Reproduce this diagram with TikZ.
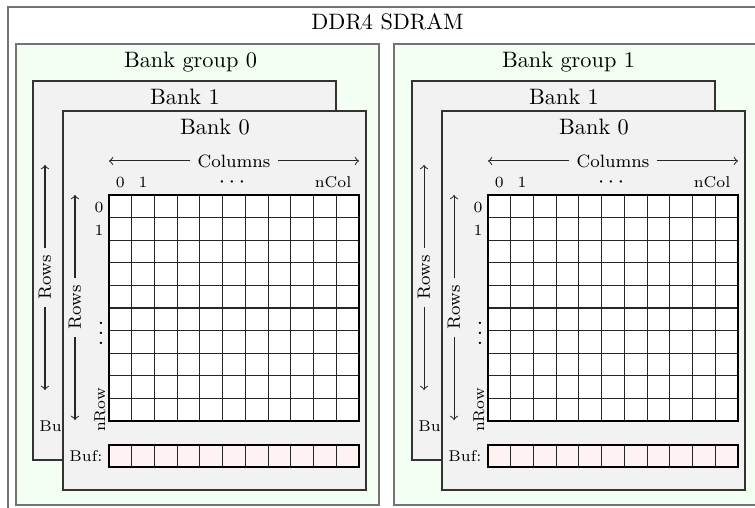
\documentclass[tikz,border=0pt]{standalone}
\usepackage{tikz}

% one unit = one "pixel" of the final drawing, y grows downwards
\tikzset{
  outerbox/.style={draw=black!55, line width=0.6pt, fill=white},
  groupbox/.style={draw=black!55, line width=0.6pt, fill=green!5},
  bankbox/.style={draw=black!80, line width=0.5pt, fill=gray!10},
  cellline/.style={draw=black!85, line width=0.5pt},
  cellframe/.style={draw=black, line width=0.85pt},
  idx/.style={font=\scriptsize, inner sep=1pt},
  dotslab/.style={font=\normalsize, inner sep=0pt},
  axislab/.style={font=\footnotesize, inner xsep=3.3pt, inner ysep=0.5pt},
  titlelab/.style={anchor=base, inner sep=0pt},
  dimarrow/.style={->, draw=black!85, line width=0.45pt},
}

% parts shared by every bank: frame, title, row axis, buffer label
% #1 name prefix, #2 bank number
\newcommand\bankframe[2]{%
    \draw[bankbox] (0,0) rectangle (303,379);
    \node[titlelab] (#1-title) at (152,23.5) {Bank #2};
    \node[axislab, rotate=90] (#1-rowlab) at (12,196.5) {Rows};
    \coordinate (#1-rt) at (12,84);
    \coordinate (#1-rb) at (12,309);
    \draw[dimarrow] (#1-rowlab.east) -- (#1-rt);
    \draw[dimarrow] (#1-rowlab.west) -- (#1-rb);
    \node[idx, anchor=east] (#1-buflab) at (42,345) {Buf:};
}

% bank lying behind another one: only its exposed strip shows
% #1 name prefix, #2/#3 top-left corner, #4 bank number
\newcommand\drawbackbank[4]{%
  \begin{scope}[shift={(#2,#3)}]
    \bankframe{#1}{#4}
  \end{scope}%
}

% bank in front, with its full cell array
% #1 name prefix, #2/#3 top-left corner, #4 bank number
\newcommand\drawbank[4]{%
  \begin{scope}[shift={(#2,#3)}]
    \bankframe{#1}{#4}
    % column axis
    \node[axislab] (#1-collab) at (171,50) {Columns};
    \coordinate (#1-cl) at (46,50);
    \coordinate (#1-cr) at (296,50);
    \draw[dimarrow] (#1-collab) -- (#1-cl);
    \draw[dimarrow] (#1-collab) -- (#1-cr);
    % column indices
    \node[idx, anchor=base] (#1-c0) at (57.4,77) {0};
    \node[idx, anchor=base] (#1-c1) at (80.1,77) {1};
    \node[dotslab, anchor=base] (#1-cdots) at (169,77) {$\smash{\cdots}$};
    \node[idx, anchor=base east] (#1-cn) at (291,77) {nCol};
    % row indices
    \node[idx] (#1-r0) at (36,96) {0};
    \node[idx] (#1-r1) at (36,119) {1};
    \node[dotslab, anchor=base, rotate=90] (#1-rdots) at (43.6,222) {$\smash{\cdots}$};
    \node[idx, rotate=90] (#1-rn) at (37,299) {nRow};
    % cell array
    \fill[white] (46,84) rectangle (296,310);
    \foreach \i in {1,...,10}
      \draw[cellline] ({46+\i*250/11},84) -- ({46+\i*250/11},310);
    \foreach \j in {1,...,9}
      \draw[cellline] (46,{84+\j*22.6}) -- (296,{84+\j*22.6});
    \draw[cellframe] (46,84) rectangle (296,310);
    % row buffer
    \fill[red!5] (46,334) rectangle (296,356);
    \foreach \i in {1,...,10}
      \draw[cellline] ({46+\i*250/11},334) -- ({46+\i*250/11},356);
    \draw[cellframe] (46,334) rectangle (296,356);
  \end{scope}%
}

\begin{document}
\begin{tikzpicture}[x=0.4484pt, y=-0.4484pt]
  \useasboundingbox (0,0) rectangle (755,508);

  % device frame
  \draw[outerbox] (8,7) rectangle (767,520);
  \node[titlelab] (dev-title) at (387.5,30) {DDR4 SDRAM};

  % bank group 0
  \draw[groupbox] (16,44) rectangle (379,505);
  \node[titlelab] (g0-title) at (190.5,67.5) {Bank group 0};
  \drawbackbank{g0b1}{33}{81}{1}
  \drawbank{g0b0}{63}{111}{0}

  % bank group 1
  \draw[groupbox] (394,44) rectangle (757,505);
  \node[titlelab] (g1-title) at (568.5,67.5) {Bank group 1};
  \drawbackbank{g1b1}{412}{81}{1}
  \drawbank{g1b0}{442}{111}{0}
\end{tikzpicture}
\end{document}
